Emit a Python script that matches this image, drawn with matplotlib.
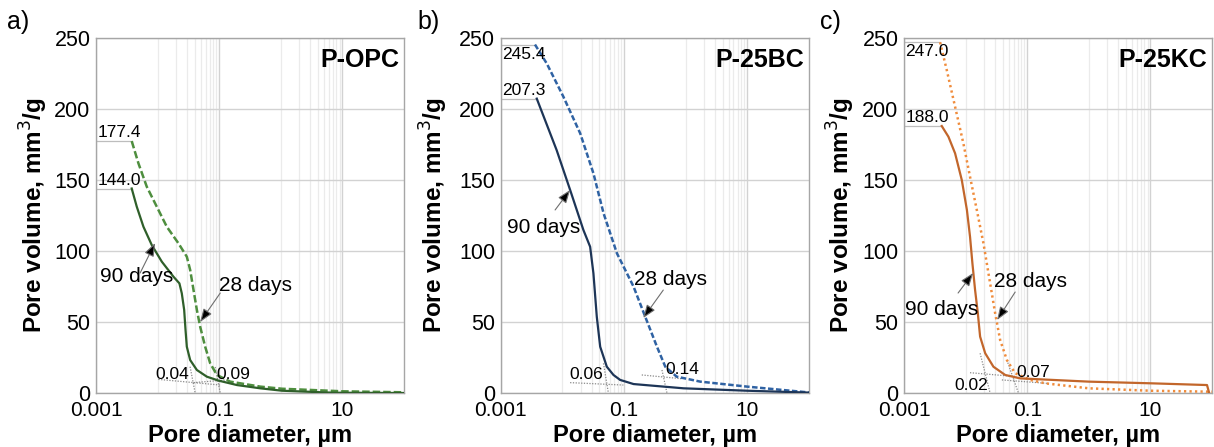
import numpy as np
import matplotlib
matplotlib.use("Agg")
import matplotlib.pyplot as plt

plt.rcParams['font.family'] = ['Liberation Sans', 'DejaVu Sans']

# ---- data (pore diameter um, pore volume mm3/g) ----
a90_x = [0.0038, 0.00459, 0.00589, 0.00804, 0.0117, 0.0181, 0.0226, 0.0247, 0.027, 0.0284, 0.0298,
         0.0338, 0.0434, 0.063, 0.098, 0.194, 0.464, 1.05, 7.1, 100]
a90_y = [144.0, 131.2, 117.1, 104.2, 92.5, 81.9, 77.2, 70.2, 58.5, 44.4, 32.6,
         23.2, 16.2, 11.5, 8.7, 5.6, 3.3, 1.6, 0.2, 0.0]
a28_x = [0.0038, 0.00488, 0.00667, 0.0097, 0.0141, 0.0218, 0.0298, 0.0338, 0.0383, 0.0434, 0.0491,
         0.0592, 0.0714, 0.0918, 0.151, 0.464, 1.05, 10, 100]
a28_y = [177.4, 161.8, 145.3, 131.2, 117.1, 105.4, 96.0, 86.6, 72.5, 58.5, 46.7,
         32.6, 20.9, 12.7, 8.0, 4.5, 3.0, 1.2, 0.5]

b90_x = [0.00385, 0.0081, 0.0134, 0.022, 0.0283, 0.032, 0.0363, 0.0412, 0.0528, 0.0677, 0.087,
         0.1435, 0.93, 10, 100]
b90_y = [207.3, 171.0, 143.0, 114.8, 103.0, 84.3, 53.7, 32.6, 18.5, 12.7, 9.2,
         6.3, 3.3, 1.6, 0.3]
b28_x = [0.0036, 0.0056, 0.0104, 0.0195, 0.032, 0.0468, 0.077, 0.1435, 0.222, 0.344, 0.47, 0.72,
         1.74, 10, 100]
b28_y = [245.4, 232.0, 208.7, 182.9, 154.7, 126.5, 98.4, 74.9, 53.7, 32.6, 18.5, 11.5,
         8.0, 4.5, 0.4]

c90_x = [0.0041, 0.00526, 0.00675, 0.00867, 0.0105, 0.0118, 0.0129, 0.01426, 0.0158, 0.0172, 0.0208,
         0.0283, 0.0439, 0.077, 1.0, 10.7, 83, 90]
c90_y = [188.0, 180.5, 168.8, 150.0, 128.9, 110.1, 91.3, 72.5, 56.1, 39.7, 28.0,
         18.5, 12.7, 10.3, 8.0, 6.8, 5.6, 0.0]
c28_x = [0.00385, 0.00494, 0.00675, 0.0092, 0.0118, 0.0152, 0.0195, 0.0235, 0.0302, 0.0364, 0.0468,
         0.0638, 0.112, 0.196, 1.0, 10, 100]
c28_y = [247.0, 227.5, 201.6, 175.8, 152.3, 128.9, 105.4, 84.3, 56.1, 37.3, 23.2,
         13.9, 9.2, 6.8, 3.3, 1.6, 0.9]

panels = ['a)', 'b)', 'c)']
names = ['P-OPC', 'P-25BC', 'P-25KC']
start_labels = [('177.4', '144.0'), ('245.4', '207.3'), ('247.0', '188.0')]
thr_labels = [('0.04', '0.09'), ('0.06', '0.14'), ('0.02', '0.07')]

series = [
    (a90_x, a90_y, a28_x, a28_y),
    (b90_x, b90_y, b28_x, b28_y),
    (c90_x, c90_y, c28_x, c28_y),
]
colors = [('#2f5f2a', '#4e8e3e'), ('#1d3557', '#2f62a3'), ('#c2662b', '#f08c3c')]
dashes = [(3.0, 1.2), (2.2, 1.0), (0.9, 1.3)]

# tangent (dotted) construction lines per panel: ((x0,x1),(y0,y1))
tangents = [
    [((0.0337, 0.0407), (18.5, 0)), ((0.0103, 0.104), (9.6, 5.6)),
     ((0.086, 0.104), (18.3, 0)), ((0.038, 0.133), (7.3, 9.2))],
    [((0.0466, 0.056), (20.9, 0)), ((0.0134, 0.098), (7.3, 5.6)),
     ((0.415, 0.5), (16.2, 0)), ((0.195, 0.9), (12.7, 10.0))],
    [((0.0172, 0.025), (28, 0)), ((0.0118, 0.068), (14.3, 11.5)),
     ((0.0468, 0.072), (23.2, 0)), ((0.0388, 0.209), (9.2, 6.8))],
]

# label positions (data coords)
day_text = [((0.00456, 81.7), (0.385, 76.0)), ((0.00497, 116.9), (0.566, 79.6)),
            ((0.00407, 58.5), (0.112, 78.2))]
day_arrow = [(((0.0052, 84.5), (0.0091, 105.6)), ((0.104, 70.4), (0.049, 50.0))),
             (((0.00764, 128.9), (0.0134, 143.0)), ((0.436, 72.5), (0.206, 52.8))),
             (((0.00755, 70.4), (0.01324, 84.5)), ((0.0638, 71.1), (0.0325, 51.4)))]
thr_pos = [((0.0172, 12.7), (0.172, 12.7)), ((0.0244, 12.7), (0.904, 16.2)),
           ((0.0125, 5.6), (0.125, 14.1))]
start_va = [('bottom', 'bottom'), ('top', 'bottom'), ('top', 'bottom')]
lefts = [96, 500.7, 904]
ylab_x = [-0.149, -0.165, -0.153]
letter_x = [18, 429, 830]

W, H = 1214, 447
fig = plt.figure(figsize=(W / 100, H / 100), dpi=100)

for i in range(3):
    ax = fig.add_axes([lefts[i] / W, (H - 393) / H, 308 / W, 355 / H])
    ax.set_xscale('log')
    ax.set_xlim(0.001, 100)
    ax.set_ylim(0, 250)

    ax.set_xticks([0.001, 0.1, 10])
    ax.set_xticklabels(['0.001', '0.1', '10'])
    minors = [k * 0.01 for k in range(1, 10)] + [k * 1.0 for k in range(1, 10)]
    ax.set_xticks(minors, minor=True)
    ax.set_xticklabels([], minor=True)
    ax.set_yticks([0, 50, 100, 150, 200, 250])
    ax.tick_params(which='both', length=0, labelsize=15.5)
    ax.tick_params(axis='x', pad=6, labelsize=15)
    ax.tick_params(axis='y', pad=4)
    ax.grid(True, which='major', color='#d2d2d2', lw=1.0)
    ax.grid(True, which='minor', axis='x', color='#ebebeb', lw=0.9)
    for s in ax.spines.values():
        s.set_color('#a6a6a6')
        s.set_linewidth(1.0)

    x90, y90, x28, y28 = series[i]
    c_solid, c_dash = colors[i]

    # horizontal guide lines to the starting values
    ax.plot([0.001, x28[0]], [y28[0], y28[0]], color='#bdbdbd', lw=0.9, zorder=2)
    ax.plot([0.001, x90[0]], [y90[0], y90[0]], color='#bdbdbd', lw=0.9, zorder=2)

    for (tx, ty) in tangents[i]:
        ax.plot(tx, ty, color='#8a8a8a', lw=0.9, ls=(0, (1, 1.2)), zorder=2)

    ax.plot(x28, y28, color=c_dash, lw=1.8, ls=(0, dashes[i]), zorder=3)
    ax.plot(x90, y90, color=c_solid, lw=1.6, zorder=4)

    l28, l90 = start_labels[i]
    va28, va90 = start_va[i]
    ax.text(0.00105, y28[0] + (-1.5 if va28 == 'top' else 0.5), l28, fontsize=12.5, va=va28, ha='left', zorder=5)
    ax.text(0.00105, y90[0] + 0.5, l90, fontsize=12.5, va=va90, ha='left', zorder=5)

    (t90, t28) = day_text[i]
    ax.text(t90[0], t90[1], '90 days', fontsize=15, ha='center', va='center', zorder=5)
    ax.text(t28[0], t28[1], '28 days', fontsize=15, ha='center', va='center', zorder=5)
    for tail, tip in day_arrow[i]:
        ax.annotate('', xy=tip, xytext=tail,
                    arrowprops=dict(arrowstyle='-|>,head_length=0.8,head_width=0.3',
                                    fc='k', ec='#6e6e6e', lw=0.8, shrinkA=0, shrinkB=0),
                    zorder=5)

    for (pos, lab) in zip(thr_pos[i], thr_labels[i]):
        ax.text(pos[0], pos[1], lab, fontsize=12.5, ha='center', va='center', zorder=5)

    ax.text(0.985, 0.938, names[i], transform=ax.transAxes, fontsize=18,
            fontweight='bold', ha='right', va='center', zorder=6)

    ax.set_ylabel('Pore volume, mm$^3$/g', fontsize=17.5, fontweight='bold')
    ax.yaxis.set_label_coords(ylab_x[i], 0.5)
    ax.set_xlabel('Pore diameter, µm', fontsize=17, fontweight='bold')
    ax.xaxis.set_label_coords(0.5, -0.088)

    fig.text(letter_x[i] / W, 1 - 22 / H, panels[i], fontsize=18, ha='center', va='center')

fig.savefig('out.png', dpi=100)
